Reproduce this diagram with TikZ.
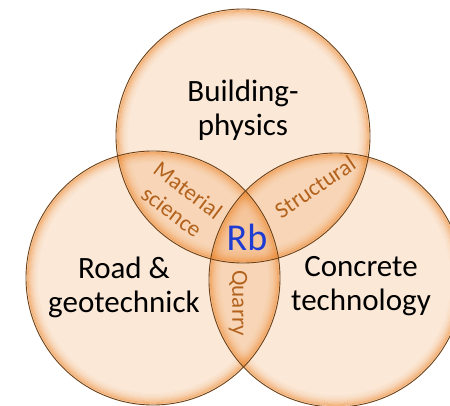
\documentclass[tikz,border=0pt]{standalone}
\usepackage{fontspec}
\setmainfont{Carlito}
\usetikzlibrary{calc}

\definecolor{peach}{RGB}{235,122,22}
\definecolor{rimbrown}{RGB}{110,64,20}
\definecolor{lenstext}{RGB}{178,98,28}
\definecolor{rbblue}{RGB}{30,60,210}

\tikzset{
	blob/.style={fill=peach, fill opacity=0.17, draw=none},
	glow/.style={draw=peach, line width=1.8pt},
	rim/.style={draw=rimbrown, line width=0.9pt},
	bigtext/.style={align=center, font=\fontsize{31}{34}\selectfont},
	lenstxt/.style={align=center, text=lenstext, font=\fontsize{23}{27}\selectfont},
}

\begin{document}
\begin{tikzpicture}[x=1pt, y=1pt]

		\def \xmax{450};
		\def \ymax{405};
		\def \raio{127};

		\fill[white] (0,0) rectangle (\xmax, \ymax);
		\clip (0,0) rectangle (\xmax, \ymax);

		\coordinate (topC) at (243, 269);
		\coordinate (leftC) at (153, 127);
		\coordinate (rightC) at (336, 125);

		% circles
		\foreach \c in {topC, leftC, rightC}
			\fill[blob] (\c) circle (\raio);

		\foreach \c in {topC, leftC, rightC}
			\foreach \i/\o in {1/0.45, 2/0.32, 3/0.22, 4/0.13, 5/0.07, 6/0.03}
				\draw[glow, draw opacity=\o] (\c) circle ({\raio-\i*1.8});

		\foreach \c in {topC, leftC, rightC}
			\draw[rim] (\c) circle (\raio);

		% labels
		\node[bigtext] (building) at ($(topC)+(0,26)$) {Building-\\physics};
		\node[bigtext] (road) at ($(leftC)+(-29,-9)$) {Road \&\\geotechnick};
		\node[bigtext] (concrete) at ($(rightC)+(25,-6)$) {Concrete\\technology};

		\node[lenstxt, rotate=-37] (material) at (180, 204) {Material\\science};
		\node[lenstxt, rotate=34] (structural) at (315, 218) {Structural};
		\node[lenstxt, rotate=-90] (quarry) at (238, 102) {Quarry};

		\node[anchor=base, text=rbblue, font=\fontsize{38}{42}\selectfont] (rb) at (247, 155) {Rb};

	\end{tikzpicture}
\end{document}
